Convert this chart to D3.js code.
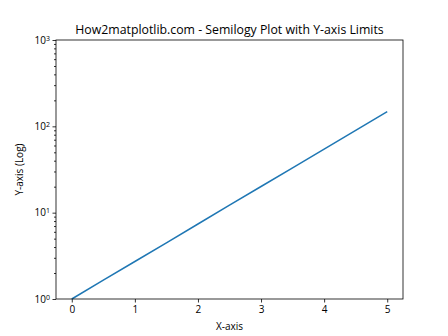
<!DOCTYPE html>
<html>
<head>
<meta charset="utf-8">
<script src="https://cdn.jsdelivr.net/npm/d3@7"></script>
<style>
  body { margin: 0; background: #fff; }
  svg text { font-family: "Open Sans", "DejaVu Sans", sans-serif; fill: #000; }
</style>
</head>
<body>
<svg width="448" height="336"></svg>
<script>
// data
const xValues = [0, 0.5, 1, 1.5, 2, 2.5, 3, 3.5, 4, 4.5, 5];
const yValues = [1, 1.65, 2.72, 4.48, 7.39, 12.2, 20.1, 33.1, 54.6, 90.0, 148.4];
const xTicks = [0, 1, 2, 3, 4, 5];
const yTicks = [1, 10, 100, 1000];
const yMinorTicks = [2,3,4,5,6,7,8,9,20,30,40,50,60,70,80,90,200,300,400,500,600,700,800,900];

const svg = d3.select("svg");
const plotLeft = 56, plotRight = 403, plotTop = 40, plotBottom = 299;

const xScale = d3.scaleLinear().domain([-0.25, 5.25]).range([plotLeft, plotRight]);
const yScale = d3.scaleLog().domain([1, 1000]).range([plotBottom, plotTop]);

// axes
const gx = svg.append("g")
    .attr("transform", "translate(0," + plotBottom + ")")
    .call(d3.axisBottom(xScale).tickValues(xTicks).tickFormat(d3.format("d")).tickSize(3.5).tickPadding(3.5));
gx.selectAll("text").attr("font-size", "10px");

const gyMinor = svg.append("g")
    .attr("transform", "translate(" + plotLeft + ",0)")
    .call(d3.axisLeft(yScale).tickValues(yMinorTicks).tickFormat("").tickSize(2));

const gy = svg.append("g")
    .attr("transform", "translate(" + plotLeft + ",0)")
    .call(d3.axisLeft(yScale).tickValues(yTicks).tickFormat("").tickSize(3.5));
gy.selectAll(".tick").each(function(d) {
    const t = d3.select(this).append("text")
        .attr("x", -6)
        .attr("dy", "0.32em")
        .attr("text-anchor", "end")
        .attr("font-size", "10px");
    t.append("tspan").text("10");
    t.append("tspan").attr("dy", "-0.45em").attr("font-size", "7px").text(Math.round(Math.log10(d)));
});

[gx, gy, gyMinor].forEach(g => {
    g.select(".domain").remove();
    g.selectAll("line").attr("stroke", "#000").attr("stroke-width", 0.8);
});

// line
const line = d3.line()
    .x((d, i) => xScale(xValues[i]))
    .y(d => yScale(d));
svg.append("path")
    .datum(yValues)
    .attr("fill", "none")
    .attr("stroke", "#1f77b4")
    .attr("stroke-width", 1.5)
    .attr("d", line);

// frame
svg.append("rect")
    .attr("x", plotLeft).attr("y", plotTop)
    .attr("width", plotRight - plotLeft).attr("height", plotBottom - plotTop)
    .attr("fill", "none").attr("stroke", "#000").attr("stroke-width", 0.8);

// labels
svg.append("text")
    .attr("x", (plotLeft + plotRight) / 2).attr("y", 34)
    .attr("text-anchor", "middle").attr("font-size", "12.3px")
    .text("How2matplotlib.com - Semilogy Plot with Y-axis Limits");

svg.append("text")
    .attr("x", (plotLeft + plotRight) / 2).attr("y", 330)
    .attr("text-anchor", "middle").attr("font-size", "10px")
    .text("X-axis");

svg.append("text")
    .attr("transform", "translate(23," + (plotTop + plotBottom) / 2 + ") rotate(-90)")
    .attr("text-anchor", "middle").attr("font-size", "10px")
    .text("Y-axis (Log)");
</script>
</body>
</html>
